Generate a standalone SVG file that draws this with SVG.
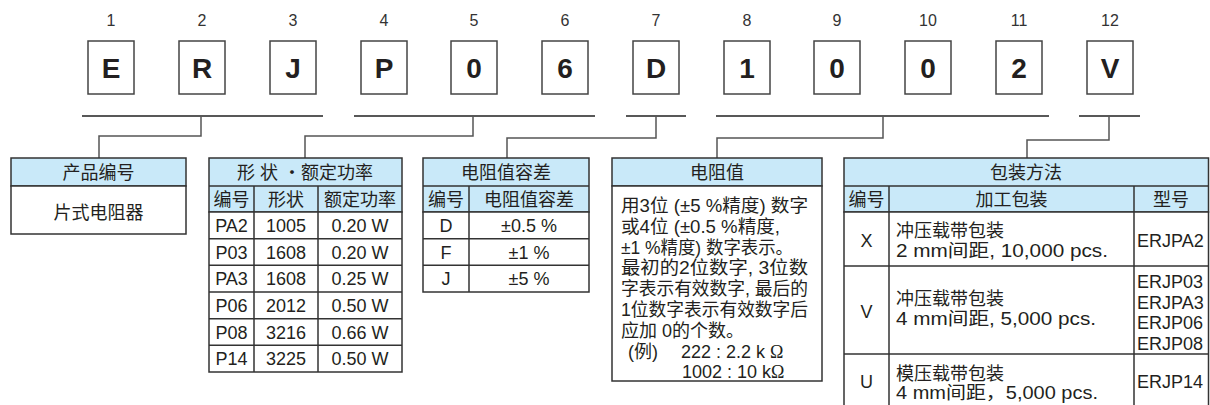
<svg xmlns="http://www.w3.org/2000/svg" width="1210" height="405" viewBox="0 0 1210 405">
<style>
text{font-family:"Liberation Sans","Noto Sans CJK SC",sans-serif;fill:#231f20;}
.num{font-size:16px;text-anchor:middle;fill:#333;}
.ch{font-size:28px;font-weight:bold;text-anchor:middle;}
.box{fill:#fff;stroke:#444;stroke-width:1.5;}
.t{font-size:18px;}
.c{text-anchor:middle;}
.om{font-family:"Liberation Serif",serif;}
.hd{fill:#c9e9f9;stroke:#333;stroke-width:1.5;}
.bd{fill:#fff;stroke:#333;stroke-width:1.5;}
.ln{stroke:#333;stroke-width:1.5;fill:none;}
.bar{stroke:#222;stroke-width:1.3;fill:none;}
.con{stroke:#555;stroke-width:1.5;fill:none;}
</style>
<g id="code">
<g id="c1"><text class="num" x="111" y="26">1</text><rect class="box" x="88" y="41" width="46" height="53"/><text class="ch" x="111" y="78">E</text></g>
<g id="c2"><text class="num" x="202" y="26">2</text><rect class="box" x="179" y="41" width="46" height="53"/><text class="ch" x="202" y="78">R</text></g>
<g id="c3"><text class="num" x="293" y="26">3</text><rect class="box" x="270" y="41" width="46" height="53"/><text class="ch" x="293" y="78">J</text></g>
<g id="c4"><text class="num" x="384" y="26">4</text><rect class="box" x="361" y="41" width="46" height="53"/><text class="ch" x="384" y="78">P</text></g>
<g id="c5"><text class="num" x="474" y="26">5</text><rect class="box" x="451" y="41" width="46" height="53"/><text class="ch" x="474" y="78">0</text></g>
<g id="c6"><text class="num" x="565" y="26">6</text><rect class="box" x="542" y="41" width="46" height="53"/><text class="ch" x="565" y="78">6</text></g>
<g id="c7"><text class="num" x="656" y="26">7</text><rect class="box" x="633" y="41" width="46" height="53"/><text class="ch" x="656" y="78">D</text></g>
<g id="c8"><text class="num" x="747" y="26">8</text><rect class="box" x="724" y="41" width="46" height="53"/><text class="ch" x="747" y="78">1</text></g>
<g id="c9"><text class="num" x="837" y="26">9</text><rect class="box" x="814" y="41" width="46" height="53"/><text class="ch" x="837" y="78">0</text></g>
<g id="c10"><text class="num" x="928" y="26">10</text><rect class="box" x="905" y="41" width="46" height="53"/><text class="ch" x="928" y="78">0</text></g>
<g id="c11"><text class="num" x="1019" y="26">11</text><rect class="box" x="996" y="41" width="46" height="53"/><text class="ch" x="1019" y="78">2</text></g>
<g id="c12"><text class="num" x="1110" y="26">12</text><rect class="box" x="1087" y="41" width="46" height="53"/><text class="ch" x="1110" y="78">V</text></g>
</g>
<g id="connectors">
<path class="bar" d="M82 116H323M354 116H595M626 116H686M716 116H1049M1079 116H1140"/>
<path class="con" d="M201 116V136H99V158"/>
<path class="con" d="M473 116V136H305V158"/>
<path class="con" d="M656 116V138H507V158"/>
<path class="con" d="M883 116V138H717V158"/>
<path class="con" d="M1109 116V140H1027V158"/>
</g>
<g id="t1" class="t">
<rect class="hd" x="11" y="158" width="175" height="28"/>
<rect class="bd" x="11" y="186" width="175" height="48"/>
<text class="c" x="98.5" y="178.5">产品编号</text>
<text class="c" x="98.5" y="218.5">片式电阻器</text>
</g>
<g id="t2" class="t">
<rect class="hd" x="209" y="158" width="193" height="54"/>
<rect class="bd" x="209" y="212" width="193" height="160"/>
<path class="ln" d="M209 186H402M209 238.7H402M209 265.3H402M209 292H402M209 318.7H402M209 345.3H402M254 186V372M318 186V372"/>
<text class="c" x="305" y="178.5">形 状 ・额定功率</text>
<text class="c" x="231.5" y="205.5">编号</text><text class="c" x="286" y="205.5">形状</text><text class="c" x="360" y="205.5">额定功率</text>
<text class="c" x="231.5" y="232">PA2</text><text class="c" x="286" y="232">1005</text><text class="c" x="360" y="232">0.20 W</text>
<text class="c" x="231.5" y="258.5">P03</text><text class="c" x="286" y="258.5">1608</text><text class="c" x="360" y="258.5">0.20 W</text>
<text class="c" x="231.5" y="285">PA3</text><text class="c" x="286" y="285">1608</text><text class="c" x="360" y="285">0.25 W</text>
<text class="c" x="231.5" y="312">P06</text><text class="c" x="286" y="312">2012</text><text class="c" x="360" y="312">0.50 W</text>
<text class="c" x="231.5" y="338.5">P08</text><text class="c" x="286" y="338.5">3216</text><text class="c" x="360" y="338.5">0.66 W</text>
<text class="c" x="231.5" y="365">P14</text><text class="c" x="286" y="365">3225</text><text class="c" x="360" y="365">0.50 W</text>
</g>
<g id="t3" class="t">
<rect class="hd" x="423" y="158" width="166" height="54"/>
<rect class="bd" x="423" y="212" width="166" height="80"/>
<path class="ln" d="M423 186H589M423 238.7H589M423 265.3H589M469 186V292"/>
<text class="c" x="506" y="178.5">电阻值容差</text>
<text class="c" x="446" y="205.5">编号</text><text class="c" x="529" y="205.5">电阻值容差</text>
<text class="c" x="446" y="232">D</text><text class="c" x="529" y="232">±0.5 %</text>
<text class="c" x="446" y="258.5">F</text><text class="c" x="529" y="258.5">±1 %</text>
<text class="c" x="446" y="285">J</text><text class="c" x="529" y="285">±5 %</text>
</g>
<g id="t4" class="t">
<rect class="hd" x="612" y="158" width="210" height="28"/>
<rect class="bd" x="612" y="186" width="210" height="195"/>
<text class="c" x="717" y="178.5">电阻值</text>
<text x="621" y="212" textLength="187" lengthAdjust="spacingAndGlyphs">用3位 (±5 %精度) 数字</text>
<text x="621" y="232.8" textLength="159" lengthAdjust="spacingAndGlyphs">或4位 (±0.5 %精度,</text>
<text x="621" y="253.5" textLength="172" lengthAdjust="spacingAndGlyphs">±1 %精度) 数字表示。</text>
<text x="621" y="274.3" textLength="187" lengthAdjust="spacingAndGlyphs">最初的2位数字, 3位数</text>
<text x="621" y="295.2" textLength="187" lengthAdjust="spacingAndGlyphs">字表示有效数字, 最后的</text>
<text x="621" y="316" textLength="187" lengthAdjust="spacingAndGlyphs">1位数字表示有效数字后</text>
<text x="621" y="336.8">应加 0的个数。</text>
<text x="628" y="357.6">(例)</text>
<text x="681" y="357.6">222 : 2.2 k <tspan class="om">Ω</tspan></text>
<text x="682" y="378.4">1002 : 10 k<tspan class="om">Ω</tspan></text>
</g>
<g id="t5" class="t">
<rect class="hd" x="844" y="158" width="364.5" height="54"/>
<rect class="bd" x="844" y="212" width="364.5" height="200"/>
<path class="ln" d="M844 186H1208.5M844 266H1208.5M844 354H1208.5M889 186V412M1134 186V412"/>
<text class="c" x="1026" y="178.5">包装方法</text>
<text class="c" x="866.5" y="205.5">编号</text><text class="c" x="1011.5" y="205.5">加工包装</text><text class="c" x="1171" y="205.5">型号</text>
<text class="c" x="866.5" y="246.5">X</text>
<text x="896" y="236.5">冲压载带包装</text>
<text x="896" y="256.5" textLength="212" lengthAdjust="spacingAndGlyphs">2 mm间距, 10,000 pcs.</text>
<text x="1137" y="246.5">ERJPA2</text>
<text class="c" x="866.5" y="317.5">V</text>
<text x="896" y="304.5">冲压载带包装</text>
<text x="896" y="324.5" textLength="200" lengthAdjust="spacingAndGlyphs">4 mm间距, 5,000 pcs.</text>
<text x="1137" y="288">ERJP03</text>
<text x="1137" y="308.5">ERJPA3</text>
<text x="1137" y="329">ERJP06</text>
<text x="1137" y="349.5">ERJP08</text>
<text class="c" x="866.5" y="388">U</text>
<text x="896" y="379.5">模压载带包装</text>
<text x="896" y="398.5" textLength="202" lengthAdjust="spacingAndGlyphs">4 mm间距，5,000 pcs.</text>
<text x="1137" y="388">ERJP14</text>
</g>
</svg>
